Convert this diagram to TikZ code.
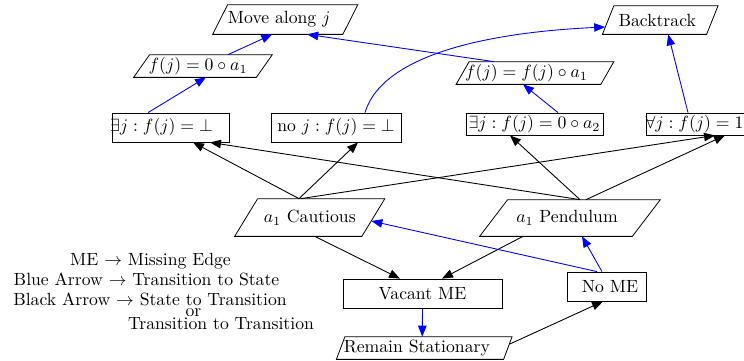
\documentclass[tikz,border=0pt]{standalone}
\usetikzlibrary{arrows.meta}
\newcommand\offtext[2]{\makebox[0pt]{\kern#1\relax#2\kern-#1\relax}}
\newcommand\drawpgram[2]{\draw[pgline] ([shift={(-#2,0)}]#1.south west) -- ([shift={(#2,0)}]#1.north west) -- ([shift={(#2,0)}]#1.north east) -- ([shift={(-#2,0)}]#1.south east) -- cycle;}
\begin{document}
\begin{tikzpicture}[x=0.566pt,y=-0.566pt,
  box/.style={draw, line width=0.45pt, inner sep=0pt},
  pgshape/.style={inner sep=0pt},
  pgline/.style={line width=0.45pt},
  blk/.style={line width=0.5pt, -{Triangle[length=6.2pt,width=4.8pt]}},
  blu/.style={blk, blue},
  lg/.style={anchor=base, inner sep=0pt}]
\useasboundingbox (0,0) rectangle (744,360);
\clip (0,0) rectangle (744,360);

% parallelogram nodes
\node[pgshape, minimum width=129.5*0.566pt, minimum height=29*0.566pt] (mv) at (285.25,19.5) {\offtext{-3.4pt}{Move along $j$}};
\node[pgshape, minimum width=122*0.566pt, minimum height=22*0.566pt] (fa1) at (203,66) {\offtext{-2.8pt}{$f(j) = 0\circ a_1$}};
\node[pgshape, minimum width=144*0.566pt, minimum height=22*0.566pt] (fb) at (535,73) {\offtext{-4.8pt}{$f(j) = f(j)\circ a_1$}};
\node[pgshape, minimum width=103.5*0.566pt, minimum height=28*0.566pt] (bt) at (660.25,20) {\offtext{-1.7pt}{Backtrack}};
\node[pgshape, minimum width=126.5*0.566pt, minimum height=37*0.566pt] (ca) at (309.75,217.5) {\offtext{0pt}{$a_1$ Cautious}};
\node[pgshape, minimum width=152*0.566pt, minimum height=36*0.566pt] (pe) at (570,218) {\offtext{-1.7pt}{$a_1$ Pendulum}};
\node[pgshape, minimum width=166.5*0.566pt, minimum height=22*0.566pt] (rs) at (424.25,348) {\offtext{-4.2pt}{Remain Stationary}};
\drawpgram{mv}{7.5}
\drawpgram{fa1}{8}
\drawpgram{fb}{6.5}
\drawpgram{bt}{5.75}
\drawpgram{ca}{11.5}
\drawpgram{pe}{14}
\drawpgram{rs}{4.25}

% rectangle nodes
\node[box, minimum width=117*0.566pt, minimum height=29*0.566pt] (ex1) at (170.5,127.5) {\offtext{-5.1pt}{$\exists j : f(j) = \bot$}};
\node[box, minimum width=130*0.566pt, minimum height=29*0.566pt] (noj) at (336,127.5) {\offtext{0pt}{no $j : f(j) = \bot$}};
\node[box, minimum width=137*0.566pt, minimum height=22*0.566pt] (ex2) at (534.5,124) {\offtext{0pt}{$\exists j : f(j) = 0\circ a_2$}};
\node[box, minimum width=108*0.566pt, minimum height=22*0.566pt] (all) at (700,124) {\offtext{-3.1pt}{$\forall j : f(j) = 1$}};
\node[box, minimum width=159*0.566pt, minimum height=29*0.566pt] (vac) at (422.5,293.5) {\offtext{0pt}{Vacant ME}};
\node[box, minimum width=79*0.566pt, minimum height=29*0.566pt] (nome) at (606.5,286.5) {\offtext{2pt}{No ME}};

% legend
\node[lg] (l1) at (150.5,265) {ME $\rightarrow$ Missing Edge};
\node[lg] (l2) at (146.5,285) {Blue Arrow $\rightarrow$ Transition to State};
\node[lg] (l3) at (150,305) {Black Arrow $\rightarrow$ State to Transition};
\node[lg] (l4) at (193.5,316) {or};
\node[lg] (l5) at (221,329) {Transition to Transition};

% black connectors
\draw[blk] ([shift={(-10.75,0)}]ca.north) -- ([shift={(22.5,0)}]ex1.south);
\draw[blk] ([shift={(-10.75,0)}]ca.north) -- ([shift={(22,0)}]noj.south);
\draw[blk] ([shift={(-9,0)}]ca.north) -- ([shift={(15,0)}]all.south);
\draw[blk] ([shift={(10,0)}]pe.north) -- ([shift={(39.5,0)}]ex1.south);
\draw[blk] ([shift={(10,0)}]pe.north) -- ([shift={(-24.5,0)}]ex2.south);
\draw[blk] ([shift={(16,0)}]pe.north) -- ([shift={(25,0)}]all.south);
\draw[blk] ([shift={(5,0)}]ca.south) -- ([shift={(-22.5,0)}]vac.north);
\draw[blk] ([shift={(-47,0)}]pe.south) -- ([shift={(19.5,0)}]vac.north);
\draw[blk] ([shift={(2,-4)}]rs.east) -- ([shift={(-3.5,0)}]nome.south);

% blue connectors
\draw[blu] ([shift={(-22.5,0)}]ex1.north) -- ([shift={(3,0)}]fa1.south);
\draw[blu] ([shift={(25,0)}]fa1.north) -- ([shift={(-13,0)}]mv.south);
\draw[blu] ([shift={(-41,0)}]fb.north) -- ([shift={(22,0)}]mv.south);
\draw[blu] ([shift={(29,0)}]noj.north) .. controls +(18,-60) and +(-110,5) .. ([shift={(-3,7)}]bt.west);
\draw[blu] ([shift={(23.5,0)}]ex2.north) -- ([shift={(-12,0)}]fb.south);
\draw[blu] ([shift={(-12,0)}]all.north) -- ([shift={(8,0)}]bt.south);
\draw[blu] ([shift={(-9.5,0)}]nome.north) -- ([shift={(-2,3.5)}]ca.east);
\draw[blu] ([shift={(-4.5,0)}]nome.north) -- ([shift={(12,0)}]pe.south);
\draw[blu] (vac.south) -- ([shift={(-2,0)}]rs.north);
\end{tikzpicture}
\end{document}
